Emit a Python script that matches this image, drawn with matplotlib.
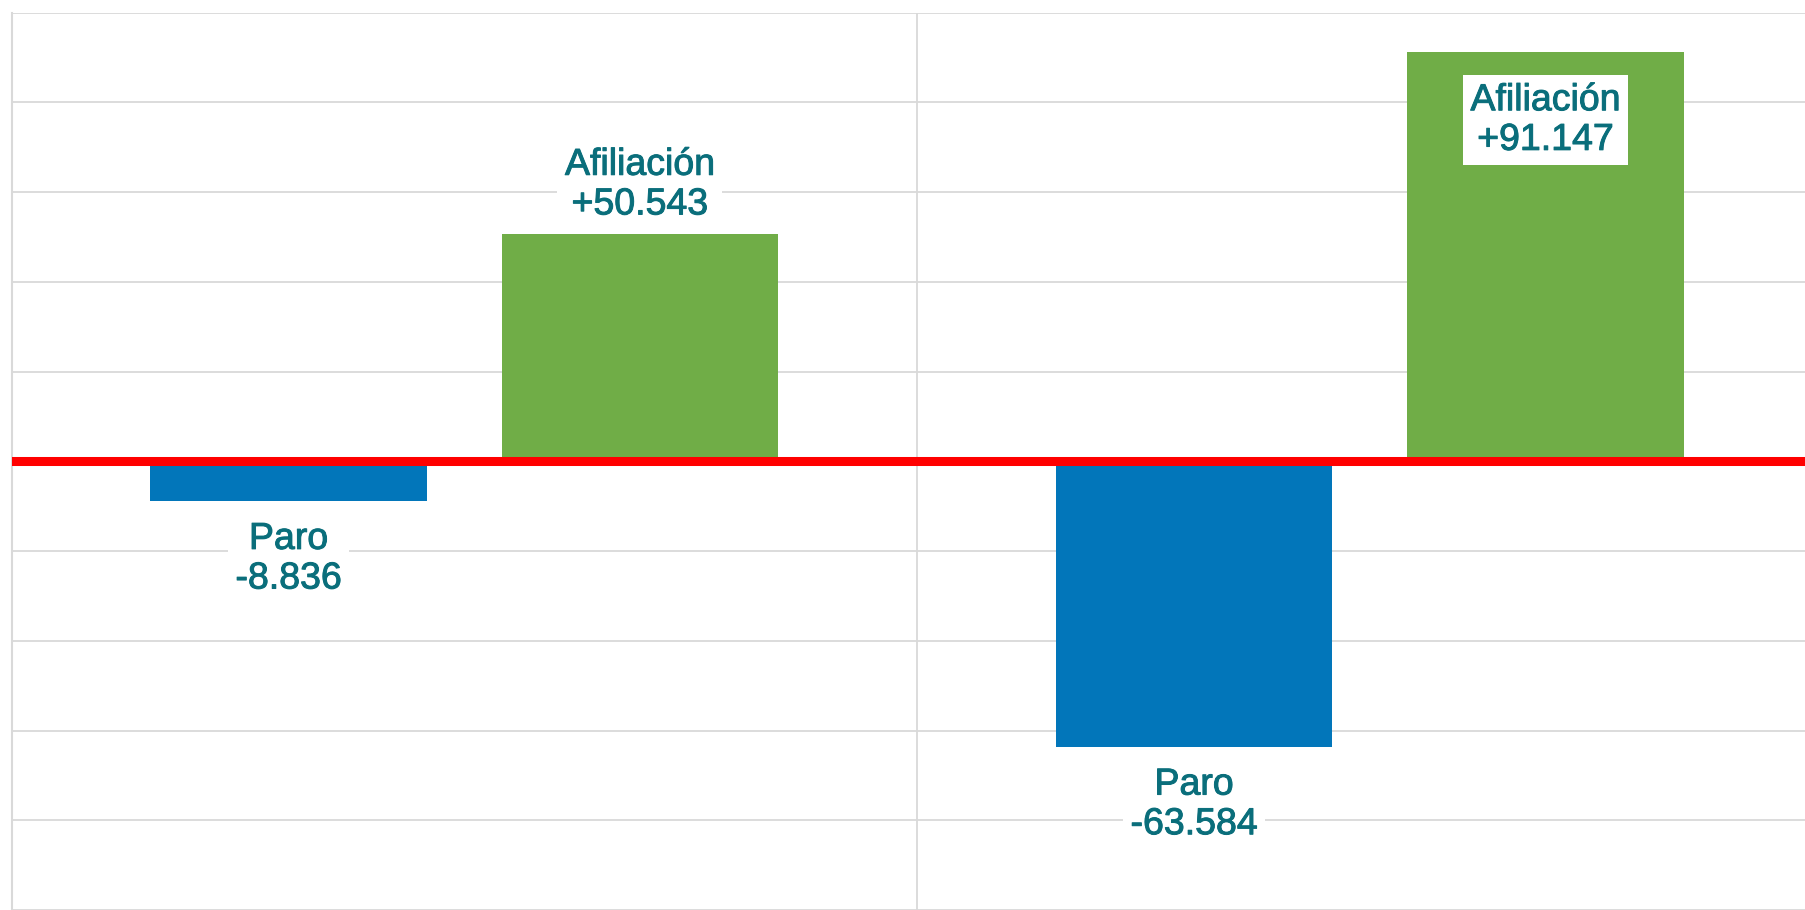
import numpy as np
import matplotlib.pyplot as plt
import matplotlib.patheffects as pe

# data
groups = ['Periodo 1', 'Periodo 2']
series = ['Paro', 'Afiliación']
paro = [-8.836, -63.584]
afiliacion = [50.543, 91.147]
label_text = {'Paro': ['-8.836', '-63.584'], 'Afiliación': ['+50.543', '+91.147']}

plt.rcParams['font.family'] = ['Liberation Sans', 'DejaVu Sans']

W, H = 1805, 910
fig = plt.figure(figsize=(W / 100, H / 100), dpi=100)
ax = fig.add_axes([11.5 / W, 0, 1 - 11.5 / W, 1 - 12.5 / H])

x = np.arange(len(groups))
bw = 0.305
off = 0.194
blue = '#0276BA'
green = '#70AD47'
txt_color = '#0A6E7B'

bars_p = ax.bar(x - off, paro, bw, color=blue, zorder=2)
bars_a = ax.bar(x + off, afiliacion, bw, color=green, zorder=2)

ax.set_xlim(-0.5, -0.5 + 1793.5 / 905.5)
ax.set_ylim(-99.0, 100)
ax.set_yticks(np.arange(-100, 101, 20))
ax.set_axisbelow(True)
ax.yaxis.grid(True, color='#D9D9D9', linewidth=1.3)
ax.axvline(0.5, color='#D9D9D9', linewidth=1.3, zorder=0)
ax.tick_params(left=False, bottom=False, labelleft=False, labelbottom=False)
for s in ['top', 'right', 'bottom']:
    ax.spines[s].set_visible(False)
ax.spines['left'].set_color('#D9D9D9')
ax.spines['left'].set_linewidth(1.5)

# zero line
ax.axhline(0, color='#FF0000', linewidth=6.5, zorder=3)

box = dict(boxstyle='square,pad=0.2', facecolor='white', edgecolor='none')
stroke = [pe.withStroke(linewidth=0.7, foreground=txt_color)]
fs = 27

for i in range(len(groups)):
    # Paro labels below bar end
    t = ax.annotate('Paro\n' + label_text['Paro'][i], xy=(x[i] - off, paro[i]),
                    xytext=(0, -20), textcoords='offset pixels', ha='center', va='top',
                    fontsize=fs, color=txt_color, linespacing=1.13, bbox=box, zorder=4)
    t.set_path_effects(stroke)
    # Afiliacion: outside if it fits, else inside end
    if afiliacion[i] < 80:
        t = ax.annotate('Afiliación\n' + label_text['Afiliación'][i], xy=(x[i] + off, afiliacion[i]),
                        xytext=(0, 12), textcoords='offset pixels', ha='center', va='bottom',
                        fontsize=fs, color=txt_color, linespacing=1.13, bbox=box, zorder=4)
    else:
        t = ax.annotate('Afiliación\n' + label_text['Afiliación'][i], xy=(x[i] + off, afiliacion[i]),
                        xytext=(0, -30), textcoords='offset pixels', ha='center', va='top',
                        fontsize=fs, color=txt_color, linespacing=1.13, bbox=box, zorder=4)
    t.set_path_effects(stroke)

fig.savefig('out.png', dpi=100, facecolor='white')
